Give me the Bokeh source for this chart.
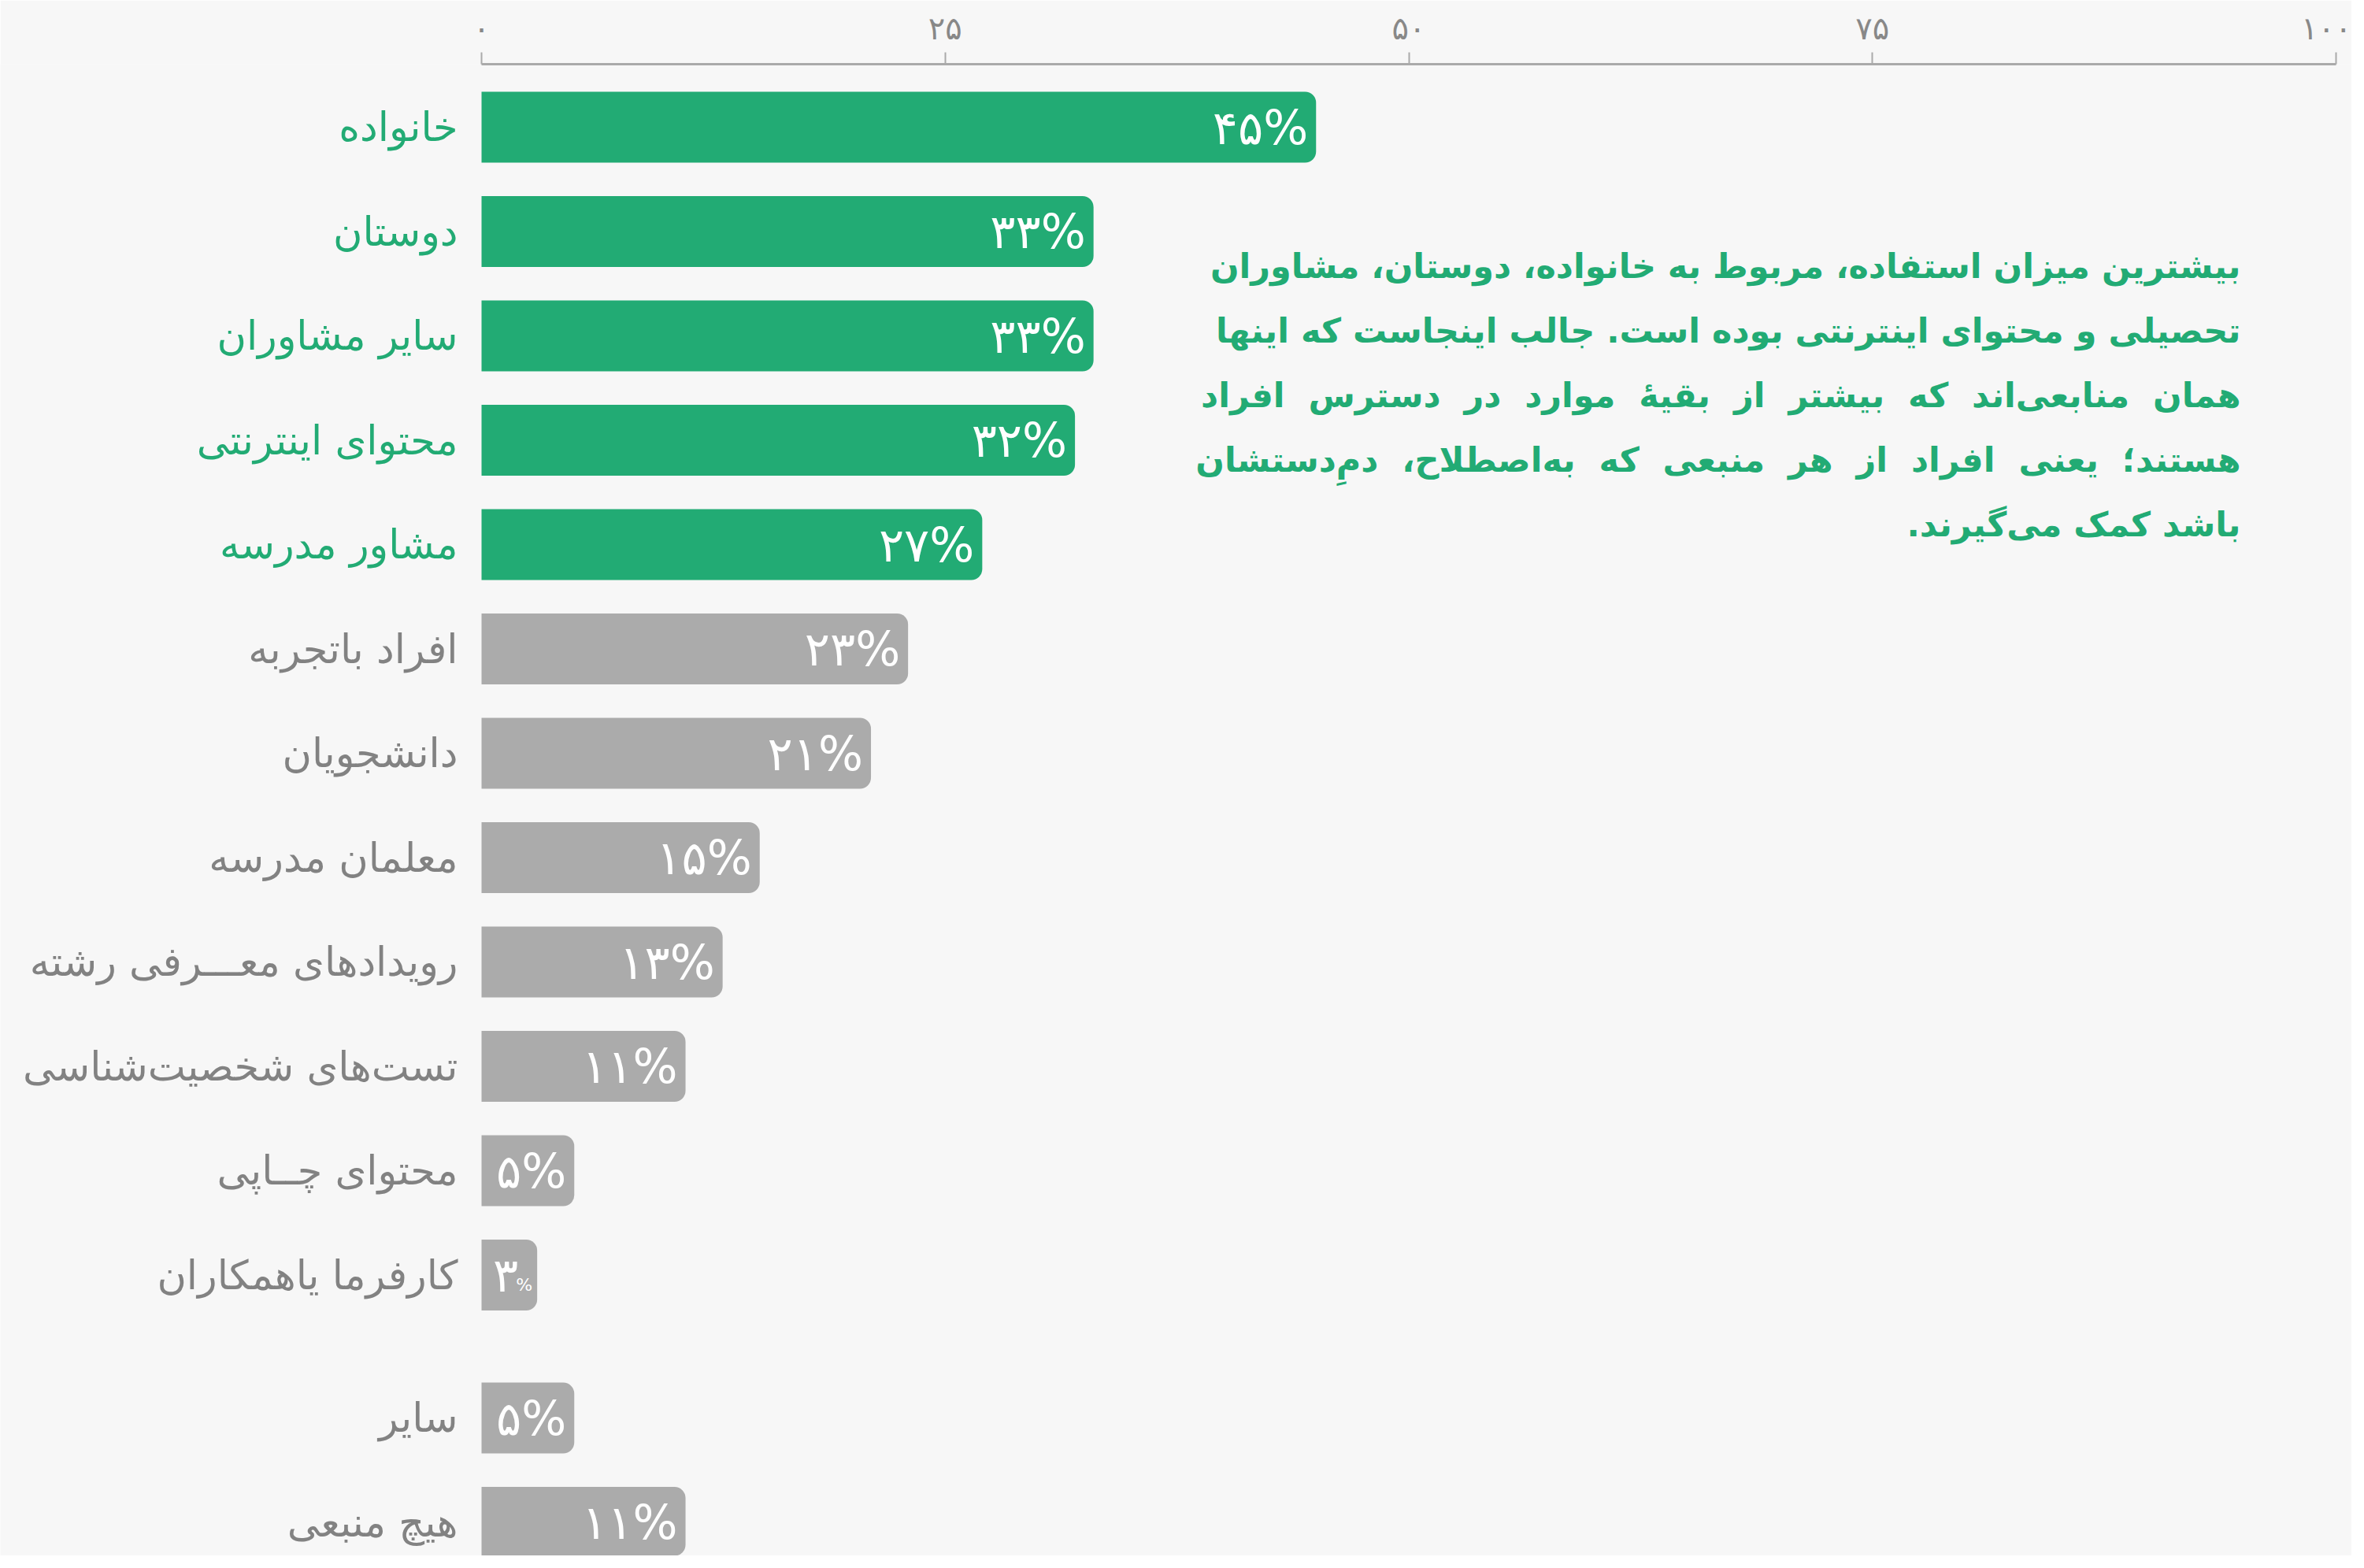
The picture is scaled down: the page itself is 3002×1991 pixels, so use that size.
from bokeh.plotting import figure
from bokeh.models import ColumnDataSource, FixedTicker, Range1d
from bokeh.embed import file_html
from bokeh.resources import INLINE
from bokeh.core.properties import value

# ---------------- data ----------------
categories = [
    "خانواده", "دوستان", "سایر مشاوران", "محتوای اینترنتی", "مشاور مدرسه",
    "افراد باتجربه", "دانشجویان", "معلمان مدرسه", "رویدادهای معـــرفی رشته",
    "تست‌های شخصیت‌شناسی", "محتوای چــاپی", "کارفرما یاهمکاران",
    "سایر", "هیچ منبعی",
]
values = [45, 33, 33, 32, 27, 23, 21, 15, 13, 11, 5, 3, 5, 11]
groups = ["main"] * 12 + ["other"] * 2
highlighted_count = 5
tick_values = [0, 25, 50, 75, 100]

note_lines = [
    "بیشترین میزان استفاده، مربوط به خانواده، دوستان، مشاوران",
    "تحصیلی و محتوای اینترنتی بوده است. جالب اینجاست که اینها",
    "همان منابعی‌اند که بیشتر از بقیهٔ موارد در دسترس افراد",
    "هستند؛ یعنی افراد از هر منبعی که به‌اصطلاح، دمِ‌دستشان",
    "باشد کمک می‌گیرند.\u200f",
]
# lines that the reference stretches to full width (justified look)
stretched = [False, False, True, True, False]

FA = str.maketrans("0123456789", "۰۱۲۳۴۵۶۷۸۹")
def fa(n):
    return str(n).translate(FA)

GREEN = "#22AB74"
GRAY_BAR = "#ABABAB"
GRAY_TXT = "#828282"
BG = "#F7F7F7"
FONT = "DejaVu Sans"

# positions: rows with a gap before the "other" group
GAP = 0.37
ypos = [i + (GAP if g == "other" else 0) for i, g in enumerate(groups)]
bar_colors = [GREEN if i < highlighted_count else GRAY_BAR for i in range(len(values))]
txt_colors = [GREEN if i < highlighted_count else GRAY_TXT for i in range(len(values))]

W, H = 2986, 1975
TOP = 81
px_per_unit = 23.55
x0_px = 611
xs = -x0_px / px_per_unit
xe = xs + W / px_per_unit
row_px = 132.5
first_row_px = 80
ytop = -first_row_px / row_px
ybot = ytop + (H - TOP) / row_px

p = figure(width=W, height=H, output_backend="svg", toolbar_location=None,
           x_range=Range1d(xs, xe), y_range=Range1d(ybot, ytop),
           x_axis_location="above", y_axis_location=None,
           min_border=0, min_border_top=TOP, min_border_left=0,
           min_border_right=0, min_border_bottom=0)
p.background_fill_color = BG
p.border_fill_color = BG
p.outline_line_color = None
p.grid.visible = False

ax = p.xaxis[0]
ax.ticker = FixedTicker(ticks=tick_values)
ax.major_label_overrides = {t: fa(t) for t in tick_values}
ax.bounds = (0, 100)
ax.axis_line_color = "#AAAAAA"
ax.axis_line_width = 3
ax.major_tick_line_color = "#AAAAAA"
ax.major_tick_line_width = 2
ax.major_tick_out = 15
ax.major_tick_in = 0
ax.minor_tick_line_color = None
ax.major_label_text_color = "#888888"
ax.major_label_text_font = FONT
ax.major_label_text_font_size = "40px"
ax.major_label_standoff = 8

big = [v >= 4 for v in values]
src = ColumnDataSource(dict(
    y=ypos, v=values, cat=categories, bc=bar_colors, tc=txt_colors,
    lab=[fa(v) + "%" if b else "" for v, b in zip(values, big)],
    num=["" if b else fa(v) for v, b in zip(values, big)],
    pct=["" if b else "%" for b in big],
))

bar_h = 90 / row_px
p.hbar(y="y", left=0, right="v", height=bar_h, fill_color="bc", line_color=None,
       border_radius=(0, 14, 14, 0), source=src)

p.text(x=0, y="y", text="cat", text_color="tc", text_align="right",
       text_baseline="middle", x_offset=-30, text_font=value(FONT),
       text_font_size="51px", source=src)

p.text(x="v", y="y", text="lab", text_color="white", text_align="right",
       text_baseline="middle", x_offset=-10, text_font=value(FONT),
       text_font_size="60px", source=src)
p.text(x="v", y="y", text="num", text_color="white", text_align="right",
       text_baseline="middle", x_offset=-24, text_font=value(FONT),
       text_font_size="60px", source=src)
p.text(x="v", y="y", text="pct", text_color="white", text_align="right",
       text_baseline="middle", x_offset=-6, y_offset=12, text_font=value(FONT),
       text_font_size="22px", source=src)

# annotation block
note_text = [ln.replace(" ", " \u00a0") if s else ln for ln, s in zip(note_lines, stretched)]
note_right = (2845 - x0_px) / px_per_unit
note_y0 = (337 - 161) / row_px
note_step = 82 / row_px
p.text(x=[note_right] * len(note_text),
       y=[note_y0 + i * note_step for i in range(len(note_text))],
       text=note_text, text_color=GREEN, text_align="right",
       text_baseline="middle", text_font=value(FONT), text_font_style="bold",
       text_font_size="43px")

open("out.html", "w").write(file_html(p, INLINE))
